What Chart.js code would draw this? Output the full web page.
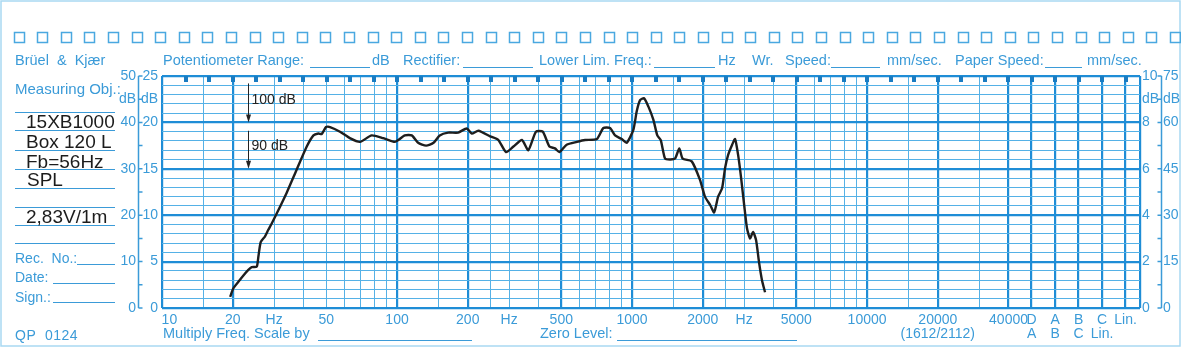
<!DOCTYPE html>
<html>
<head>
<meta charset="utf-8">
<script src="https://cdn.jsdelivr.net/npm/chart.js@4.4.1/dist/chart.umd.min.js"></script>
<style>
  html, body { margin: 0; padding: 0; background: #fff; }
  #wrap { position: relative; width: 1181px; height: 347px; overflow: hidden; font-family: "Liberation Sans", Arial, sans-serif; }
  #wrap canvas { position: absolute; left: 0; top: 0; }
  .t { position: absolute; color: #3b9bd8; font-size: 14.5px; white-space: nowrap; line-height: 1; }
  .s { font-size: 14px; }
  .u { position: absolute; height: 0; border-top: 1px solid #3b9bd8; }
  .k { position: absolute; color: #1c1c1c; font-size: 19px; white-space: nowrap; line-height: 1; }
</style>
</head>
<body>
<div id="wrap">
  <canvas id="paperChart" width="1181" height="347"></canvas>

  <!-- header row -->
  <div class="t" style="left:15px;top:53px">Brüel&nbsp; &amp;&nbsp; Kjær</div>
  <div class="t" style="left:163px;top:53px">Potentiometer Range:</div>
  <div class="u" style="left:310px;top:67px;width:60px"></div>
  <div class="t" style="left:372px;top:53px">dB</div>
  <div class="t" style="left:403px;top:53px">Rectifier:</div>
  <div class="u" style="left:463px;top:67px;width:70px"></div>
  <div class="t" style="left:539px;top:53px">Lower Lim. Freq.:</div>
  <div class="u" style="left:654px;top:67px;width:61px"></div>
  <div class="t" style="left:718px;top:53px">Hz</div>
  <div class="t" style="left:752px;top:53px">Wr.</div>
  <div class="t" style="left:785px;top:53px">Speed:</div>
  <div class="u" style="left:831px;top:67px;width:49px"></div>
  <div class="t" style="left:887px;top:53px">mm/sec.</div>
  <div class="t" style="left:955px;top:53px">Paper Speed:</div>
  <div class="u" style="left:1045px;top:67px;width:37px"></div>
  <div class="t" style="left:1087px;top:53px">mm/sec.</div>

  <!-- left panel -->
  <div class="t" style="left:15px;top:81px;font-size:15px">Measuring Obj.:</div>
  <div class="u" style="left:15px;top:112px;width:100px"></div>
  <div class="u" style="left:15px;top:130px;width:100px"></div>
  <div class="u" style="left:15px;top:150px;width:100px"></div>
  <div class="u" style="left:15px;top:169px;width:100px"></div>
  <div class="u" style="left:15px;top:188px;width:100px"></div>
  <div class="u" style="left:15px;top:207px;width:100px"></div>
  <div class="u" style="left:15px;top:225px;width:100px"></div>
  <div class="u" style="left:15px;top:243px;width:100px"></div>
  <div class="k" style="left:26px;top:112px">15XB1000</div>
  <div class="k" style="left:26px;top:132px">Box 120 L</div>
  <div class="k" style="left:26px;top:152px">Fb=56Hz</div>
  <div class="k" style="left:27px;top:170px">SPL</div>
  <div class="k" style="left:26px;top:207px">2,83V/1m</div>
  <div class="t s" style="left:15px;top:251px">Rec.&nbsp; No.:</div>
  <div class="u" style="left:77px;top:264px;width:38px"></div>
  <div class="t s" style="left:15px;top:270px">Date:</div>
  <div class="u" style="left:53px;top:283px;width:62px"></div>
  <div class="t s" style="left:15px;top:290px">Sign.:</div>
  <div class="u" style="left:53px;top:302px;width:62px"></div>
  <div class="t s" style="left:15px;top:328px;letter-spacing:0.5px">QP&nbsp; 0124</div>

  <!-- bottom row -->
  <div class="t" style="left:163px;top:326px">Multiply Freq. Scale by</div>
  <div class="u" style="left:318px;top:340px;width:154px"></div>
  <div class="t" style="left:540px;top:326px">Zero Level:</div>
  <div class="u" style="left:617px;top:340px;width:180px"></div>
</div>

<script>
// ================= B&K level recorder paper =================

const freqHz = [19.5, 20.1, 21.1, 22.2, 23.3, 24.1, 25.3, 25.7, 26.3, 27.4,
  28.3, 29.3, 30.8, 33.9, 37.4, 41.3, 44.1, 46.3, 47.8, 49.9,
  51.9, 57.2, 63, 69.6, 78, 87.4, 98, 101.3, 108, 115.5,
  123, 133, 143, 152, 165, 182, 198, 208, 222, 249,
  270, 291, 313, 340, 362, 390, 417, 445, 470, 491,
  527, 582, 631, 708, 755, 806, 847, 904, 949, 1013,
  1047, 1082, 1125, 1174, 1232, 1281, 1325, 1382, 1452, 1524,
  1589, 1642, 1795, 1946, 2043, 2150, 2235, 2324, 2416, 2489,
  2564, 2667, 2744, 2827, 2912, 3000, 3084, 3177, 3273, 3372,
  3467, 3572, 3680];
// level on the inner 0..25 scale
const levelDiv = [1.2, 2.1, 2.8, 3.5, 4.1, 4.4, 4.45, 5.5, 7.1, 7.7,
  8.4, 9.1, 10.2, 12.4, 14.9, 17.4, 18.6, 18.8, 18.75, 19.5,
  19.5, 19.0, 18.3, 17.9, 18.6, 18.3, 17.9, 18.1, 18.6, 18.6,
  17.8, 17.5, 17.8, 18.6, 18.9, 18.9, 19.35, 18.8, 19.1, 18.5,
  18.1, 16.8, 17.4, 18.1, 17.0, 19.0, 19.0, 17.4, 17.2, 16.8,
  17.6, 17.9, 18.1, 18.2, 19.4, 19.4, 18.6, 18.2, 17.8, 19.2,
  21.2, 22.4, 22.6, 21.7, 20.3, 18.6, 18.1, 16.1, 16.0, 16.1,
  17.2, 16.1, 15.8, 13.8, 12.0, 11.1, 10.3, 12.0, 12.9, 15.1,
  16.5, 17.6, 18.2, 16.5, 14.0, 11.1, 8.6, 7.5, 8.2, 7.3,
  5.0, 3.0, 1.7];

// ---------- frequency axis ----------
const freqMin = 10;
const freqMax = 145000;
const gridHz = [10, 15, 20, 30, 40, 50, 60, 70, 80, 90,
  100, 150, 200, 250, 300, 400, 500, 600, 700, 800, 900,
  1000, 1500, 2000, 2500, 3000, 4000, 5000, 6000, 7000, 8000, 9000,
  10000, 15000, 20000, 30000, 40000];
const boldHz = [20, 100, 200, 500, 1000, 2000, 5000, 10000, 20000, 40000];
const weightHz = [50119, 63096, 79433, 100000, 125893];
const freqTickVals = [10.75, 20, 30, 50, 100, 200, 300, 500, 1000, 2000, 3000, 5000, 10000, 20000, 40000];
const freqTickLabels = ['10', '20', 'Hz', '50', '100', '200', 'Hz', '500', '1000', '2000', 'Hz', '5000', '10000', ['20000', '(1612/2112)'], '40000'];
const weightLabels = [['D', 'A'], ['A', 'B'], ['B', 'C'], ['C', 'Lin.'], ['Lin.', '']];

// ---------- level axes ----------
const innerLeftTicks = [0, 5, 10, 15, 20, 25];
const outerLeftTicks = [0, 10, 20, 30, 40, 50];
const innerRightTicks = [0, 2, 4, 6, 8, 10];
const outerRightTicks = [0, 15, 30, 45, 60, 75];

const BLUE = '#3b9bd8';
const BOLD = '#1f8dd6';
const THIN = '#55b1e6';
const NONE = 'rgba(0,0,0,0)';

const xLabel = new Map();
freqTickVals.forEach((v, i) => xLabel.set(v, freqTickLabels[i]));
weightHz.forEach((v, i) => xLabel.set(v, weightLabels[i]));
const xTicks = [...new Set([...gridHz, ...weightHz, freqMax, ...freqTickVals])].sort((a, b) => a - b);

const steps = (max, step) => { const out = []; for (let i = 0; i * step <= max + 1e-9; i++) out.push(i * step); return out; };

const isGridX = v => gridHz.includes(v) || weightHz.includes(v) || v === freqMax;
const isBoldX = v => boldHz.includes(v) || weightHz.includes(v) || v === freqMin || v === freqMax;

const tickFont = { family: '"Liberation Sans", Arial, sans-serif', size: 14, lineHeight: 1 };

const paper = {
  id: 'paper',
  beforeDraw(chart) {
    const c = chart.ctx;
    c.save();
    c.fillStyle = '#fff';
    c.fillRect(0, 0, chart.width, chart.height);
    c.strokeStyle = '#a9d9f2';
    c.lineWidth = 1.5;
    c.strokeRect(1, 1, chart.width - 2, chart.height - 2);
    // sprocket holes
    c.strokeStyle = '#4aa8e0';
    for (let i = 0; i < 50; i++) c.strokeRect(Math.round(13.5 + i * 23.6) + 0.5, 32.5, 10, 10);
    c.restore();
  },
  beforeDatasetsDraw(chart) {
    const c = chart.ctx, xs = chart.scales.x, ys = chart.scales.y, yr = chart.scales.yR, a = chart.chartArea;
    c.save();
    // 0.1 decade marks on the top edge
    c.fillStyle = '#1a7cc2';
    for (let k = 11; k <= 51; k++) {
      const px = xs.getPixelForValue(Math.pow(10, k / 10));
      c.fillRect(Math.round(px) - 2, a.top, 4, 6);
    }
    // scale brackets between the double label columns
    c.strokeStyle = BLUE;
    c.lineWidth = 1.5;
    const lx = ys.left - 2.5, rx = yr.right + 1.5;
    c.beginPath();
    c.moveTo(lx, ys.getPixelForValue(25)); c.lineTo(lx, ys.getPixelForValue(0));
    c.moveTo(rx, ys.getPixelForValue(25)); c.lineTo(rx, ys.getPixelForValue(0));
    for (let v = 0; v <= 25; v += 2.5) {
      const py = ys.getPixelForValue(v);
      c.moveTo(lx, py); c.lineTo(lx + 4, py);
      c.moveTo(rx, py); c.lineTo(rx - 4, py);
    }
    c.stroke();
    // 100 dB / 90 dB arrows
    const ax = Math.round(xs.getPixelForValue(23.2)) + 0.5;
    const arrow = (y1, y2) => {
      c.beginPath(); c.moveTo(ax, y1); c.lineTo(ax, y2 - 6); c.stroke();
      c.beginPath(); c.moveTo(ax - 2.5, y2 - 8); c.lineTo(ax + 2.5, y2 - 8); c.lineTo(ax, y2); c.closePath(); c.fill();
    };
    c.strokeStyle = '#222'; c.fillStyle = '#222'; c.lineWidth = 1;
    arrow(ys.getPixelForValue(24.2), ys.getPixelForValue(20));
    arrow(ys.getPixelForValue(19.1), ys.getPixelForValue(15));
    c.font = '14px "Liberation Sans", Arial, sans-serif';
    c.textBaseline = 'middle';
    c.fillText('100 dB', ax + 3, ys.getPixelForValue(22.4));
    c.fillText('90 dB', ax + 3, ys.getPixelForValue(17.4));
    c.restore();
  }
};

new Chart(document.getElementById('paperChart'), {
  type: 'line',
  data: {
    datasets: [{
      label: 'SPL',
      data: freqHz.map((f, i) => ({ x: f, y: levelDiv[i] })),
      borderColor: '#1e1e1e',
      borderWidth: 2.4,
      pointRadius: 0,
      tension: 0.2,
      fill: false
    }]
  },
  options: {
    responsive: false,
    animation: false,
    devicePixelRatio: 1,
    layout: { padding: { left: 119, right: 0, top: 76, bottom: 0 } },
    plugins: { legend: { display: false }, tooltip: { enabled: false } },
    scales: {
      x: {
        type: 'logarithmic',
        min: freqMin,
        max: freqMax,
        afterBuildTicks: s => { s.ticks = xTicks.map(v => ({ value: v })); },
        afterFit: s => { s.height = 39; },
        ticks: {
          autoSkip: false, maxRotation: 0, minRotation: 0, padding: 5,
          color: BLUE, font: tickFont,
          callback: v => xLabel.has(v) ? xLabel.get(v) : ''
        },
        grid: {
          drawTicks: false,
          color: ctx => isGridX(ctx.tick.value) ? (isBoldX(ctx.tick.value) ? BOLD : THIN) : NONE,
          lineWidth: ctx => isGridX(ctx.tick.value) ? (isBoldX(ctx.tick.value) ? 2.2 : 1) : 0
        },
        border: { display: false }
      },
      y: {
        type: 'linear', position: 'left', weight: 0, min: 0, max: 25,
        afterBuildTicks: s => { s.ticks = steps(25, 0.5).map(v => ({ value: v })); },
        afterFit: s => { s.width = 21; },
        ticks: {
          autoSkip: false, padding: 4, color: BLUE, font: tickFont,
          callback: v => innerLeftTicks.includes(v) ? String(v) : (v === 22.5 ? 'dB' : '')
        },
        grid: {
          drawTicks: false,
          color: ctx => Number.isInteger(ctx.tick.value) ? (ctx.tick.value % 5 === 0 ? BOLD : THIN) : NONE,
          lineWidth: ctx => Number.isInteger(ctx.tick.value) ? (ctx.tick.value % 5 === 0 ? 2.2 : 1) : 0
        },
        border: { display: false }
      },
      y2: {
        type: 'linear', position: 'left', weight: 10, min: 0, max: 50,
        afterBuildTicks: s => { s.ticks = steps(50, 5).map(v => ({ value: v })); },
        afterFit: s => { s.width = 22; },
        ticks: {
          autoSkip: false, padding: 5, color: BLUE, font: tickFont,
          callback: v => outerLeftTicks.includes(v) ? String(v) : (v === 45 ? 'dB' : '')
        },
        grid: { display: false, drawTicks: false },
        border: { display: false }
      },
      yR: {
        type: 'linear', position: 'right', weight: 0, min: 0, max: 10,
        afterBuildTicks: s => { s.ticks = steps(10, 1).map(v => ({ value: v })); },
        afterFit: s => { s.width = 20; },
        ticks: {
          autoSkip: false, padding: 2, color: BLUE, font: tickFont,
          callback: v => innerRightTicks.includes(v) ? String(v) : (v === 9 ? 'dB' : '')
        },
        grid: { display: false, drawTicks: false },
        border: { display: false }
      },
      yR2: {
        type: 'linear', position: 'right', weight: 10, min: 0, max: 75,
        afterBuildTicks: s => { s.ticks = steps(75, 7.5).map(v => ({ value: v })); },
        afterFit: s => { s.width = 21; },
        ticks: {
          autoSkip: false, padding: 3, color: BLUE, font: tickFont,
          callback: v => outerRightTicks.includes(v) ? String(v) : (v === 67.5 ? 'dB' : '')
        },
        grid: { display: false, drawTicks: false },
        border: { display: false }
      }
    }
  },
  plugins: [paper]
});
</script>
</body>
</html>
